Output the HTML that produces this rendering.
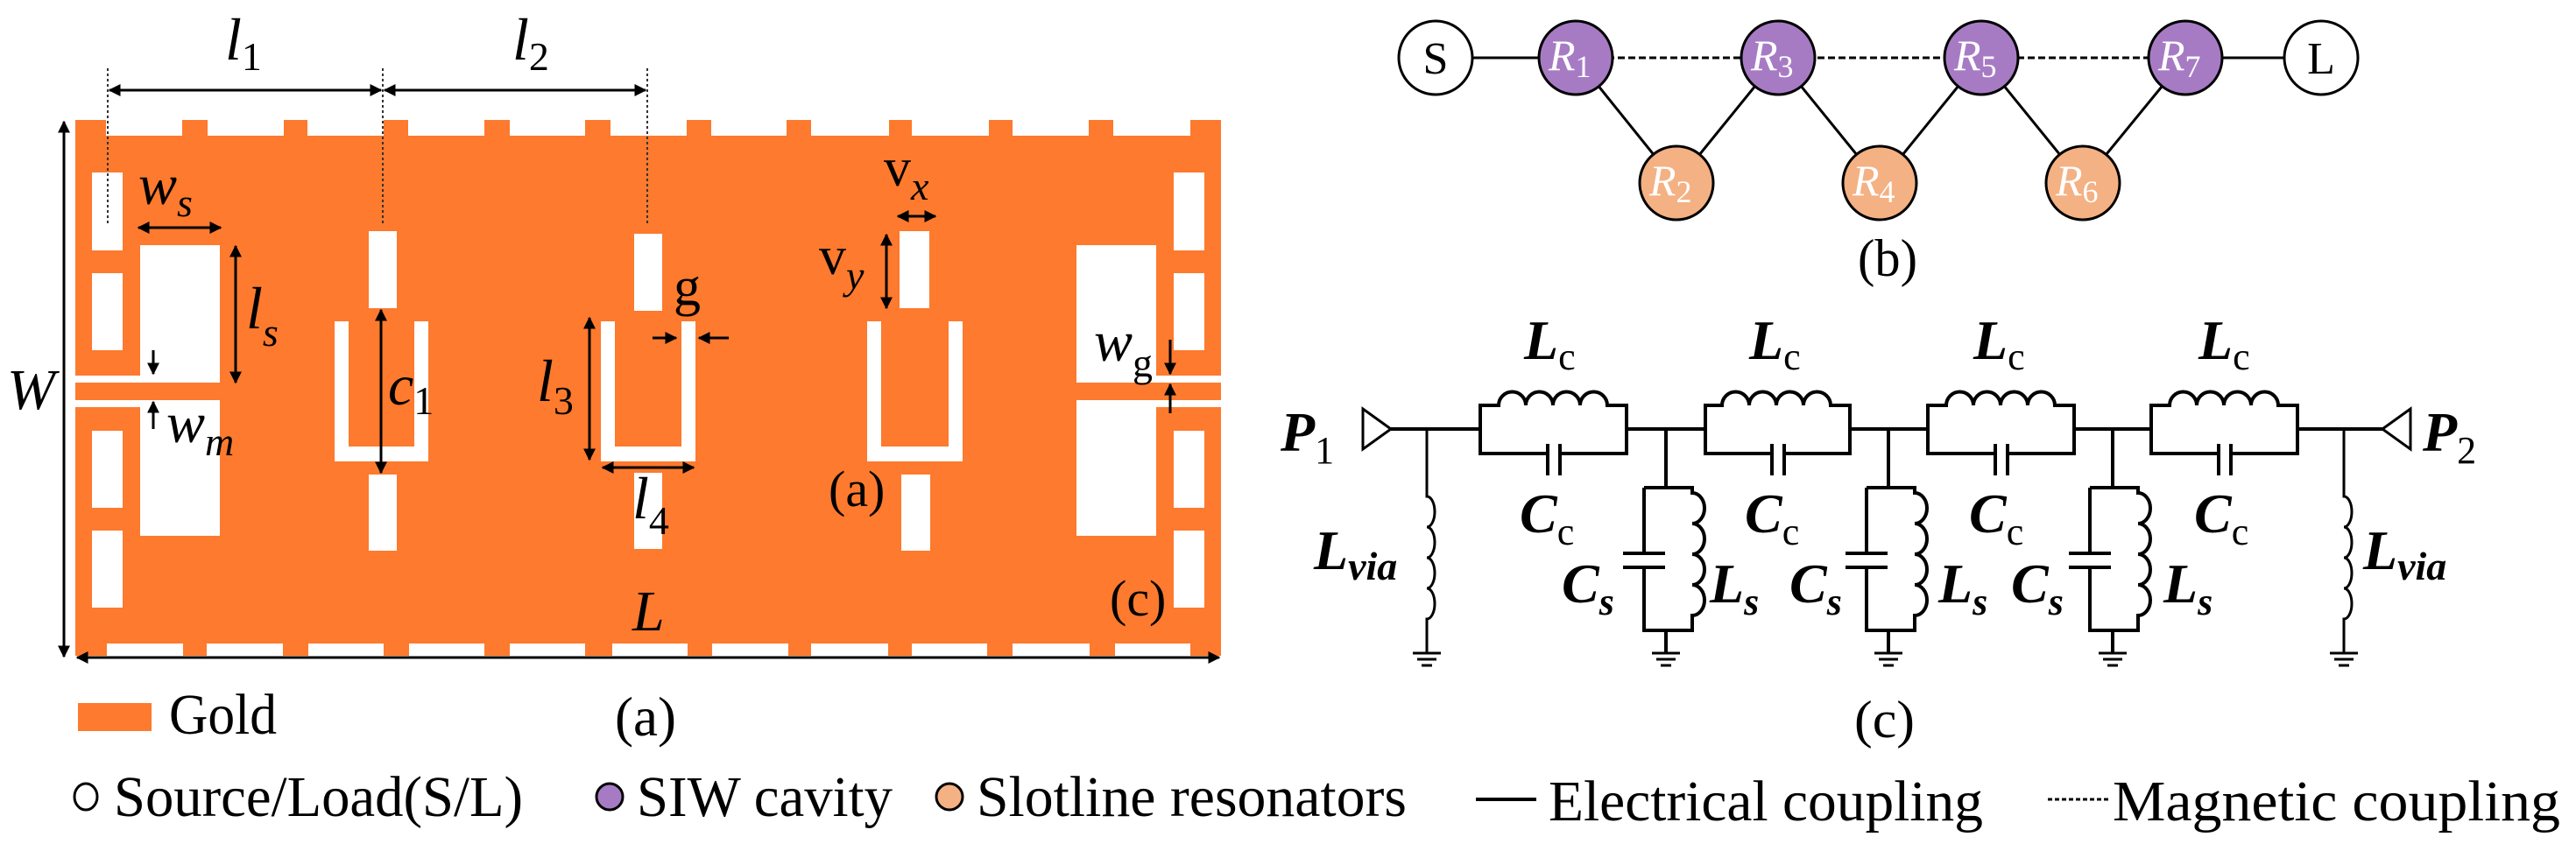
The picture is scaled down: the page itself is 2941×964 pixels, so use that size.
<!DOCTYPE html>
<html><head><meta charset="utf-8"><style>
html,body{margin:0;padding:0;background:#fff;}
svg{display:block;font-family:"Liberation Serif","Times New Roman",serif;}
svg text{font-family:"Liberation Serif","Times New Roman",serif;}
.it{font-style:italic;}
.bi{font-style:italic;font-weight:bold;}
</style></head><body>
<svg width="2941" height="964" viewBox="0 0 2941 964" xmlns="http://www.w3.org/2000/svg" font-family="Liberation Serif, Times New Roman, serif">
<defs>
<marker id="a2" viewBox="0 0 10 10" refX="9" refY="5" markerWidth="14" markerHeight="14" orient="auto-start-reverse" markerUnits="userSpaceOnUse"><path d="M0,0 L10,5 L0,10 z" fill="#000"/></marker>
</defs>

<g>
<rect x="86" y="137" width="1308" height="612" fill="#FD7A2E"/>
<g fill="#fff">
<rect x="121" y="134" width="87" height="21"/><rect x="237" y="134" width="87" height="21"/><rect x="351" y="134" width="87" height="21"/><rect x="466" y="134" width="87" height="21"/><rect x="582" y="134" width="86" height="21"/><rect x="697" y="134" width="87" height="21"/><rect x="812" y="134" width="86" height="21"/><rect x="926" y="134" width="89" height="21"/><rect x="1041" y="134" width="88" height="21"/><rect x="1156" y="134" width="87" height="21"/><rect x="1271" y="134" width="88" height="21"/>
<rect x="122" y="735" width="87" height="16"/><rect x="236" y="735" width="87" height="16"/><rect x="352" y="735" width="86" height="16"/><rect x="467" y="735" width="86" height="16"/><rect x="582" y="735" width="86" height="16"/><rect x="699" y="735" width="86" height="16"/><rect x="813" y="735" width="87" height="16"/><rect x="926" y="735" width="88" height="16"/><rect x="1041" y="735" width="86" height="16"/><rect x="1156" y="735" width="88" height="16"/><rect x="1273" y="735" width="86" height="16"/>
<rect x="105" y="197" width="35" height="89"/><rect x="105" y="312" width="35" height="88"/><rect x="105" y="492" width="35" height="88"/><rect x="105" y="606" width="35" height="88"/>
<rect x="160" y="280" width="91" height="157"/><rect x="160" y="457" width="91" height="155"/>
<rect x="86" y="429" width="165" height="8"/><rect x="86" y="457" width="165" height="8"/>
<rect x="1340" y="197" width="35" height="89"/><rect x="1340" y="312" width="35" height="88"/><rect x="1340" y="492" width="35" height="88"/><rect x="1340" y="606" width="35" height="88"/>
<rect x="1229" y="280" width="91" height="157"/><rect x="1229" y="457" width="91" height="155"/>
<rect x="1229" y="429" width="165" height="8"/><rect x="1229" y="457" width="165" height="8"/>
<rect x="421" y="264" width="32" height="88"/><rect x="724" y="267" width="32" height="88"/><rect x="1027" y="264" width="34" height="88"/>
<rect x="421" y="542" width="32" height="87"/><rect x="724" y="540" width="32" height="87"/><rect x="1029" y="542" width="33" height="87"/>
<rect x="382" y="367" width="107" height="160"/><rect x="686" y="367" width="108" height="160"/><rect x="990" y="367" width="109" height="160"/>
</g>
<g fill="#FD7A2E">
<rect x="398" y="360" width="75" height="150"/><rect x="702" y="360" width="76" height="150"/><rect x="1006" y="360" width="77" height="150"/>
</g>
</g>

<g stroke="#333" stroke-width="2" stroke-dasharray="3,3">
<line x1="123" y1="78" x2="123" y2="258"/><line x1="437" y1="78" x2="437" y2="258"/><line x1="739" y1="78" x2="739" y2="258"/>
</g>
<g stroke="#000" stroke-width="3" fill="none">
<line x1="125" y1="103" x2="435" y2="103" marker-start="url(#a2)" marker-end="url(#a2)"/>
<line x1="439" y1="103" x2="737" y2="103" marker-start="url(#a2)" marker-end="url(#a2)"/>
<line x1="73" y1="139" x2="73" y2="750" marker-start="url(#a2)" marker-end="url(#a2)"/>
<line x1="88" y1="751" x2="1392" y2="751" marker-start="url(#a2)" marker-end="url(#a2)"/>
<line x1="158" y1="260" x2="252" y2="260" marker-start="url(#a2)" marker-end="url(#a2)"/>
<line x1="269" y1="281" x2="269" y2="437" marker-start="url(#a2)" marker-end="url(#a2)"/>
<line x1="175" y1="400" x2="175" y2="427" marker-end="url(#a2)"/>
<line x1="175" y1="490" x2="175" y2="459" marker-end="url(#a2)"/>
<line x1="435" y1="354" x2="435" y2="540" marker-start="url(#a2)" marker-end="url(#a2)"/>
<line x1="673" y1="363" x2="673" y2="525" marker-start="url(#a2)" marker-end="url(#a2)"/>
<line x1="688" y1="534" x2="792" y2="534" marker-start="url(#a2)" marker-end="url(#a2)"/>
<line x1="745" y1="386" x2="772" y2="386" marker-end="url(#a2)"/>
<line x1="832" y1="386" x2="798" y2="386" marker-end="url(#a2)"/>
<line x1="1025" y1="247" x2="1068" y2="247" marker-start="url(#a2)" marker-end="url(#a2)"/>
<line x1="1012" y1="268" x2="1012" y2="352" marker-start="url(#a2)" marker-end="url(#a2)"/>
<line x1="1336" y1="388" x2="1336" y2="427" marker-end="url(#a2)"/>
<line x1="1336" y1="472" x2="1336" y2="439" marker-end="url(#a2)"/>
</g>

<g fill="#000">
<text x="257" y="68" font-size="68" class="it">l<tspan font-size="46" font-style="normal" dy="12">1</tspan></text>
<text x="585" y="68" font-size="68" class="it">l<tspan font-size="46" font-style="normal" dy="12">2</tspan></text>
<text x="158" y="233" font-size="66" class="it">w<tspan font-size="46" dy="14">s</tspan></text>
<text x="281" y="375" font-size="68" class="it">l<tspan font-size="46" dy="20">s</tspan></text>
<text x="8" y="467" font-size="66" class="it">W</text>
<text x="190" y="505" font-size="66" class="it">w<tspan font-size="46" dy="15">m</tspan></text>
<text x="443" y="462" font-size="66" class="it">c<tspan font-size="46" font-style="normal" dy="11">1</tspan></text>
<text x="613" y="458" font-size="68" class="it">l<tspan font-size="46" font-style="normal" dy="15">3</tspan></text>
<text x="722" y="592" font-size="68" class="it">l<tspan font-size="46" font-style="normal" dy="18">4</tspan></text>
<text x="769" y="348" font-size="62">g</text>
<text x="1009" y="212" font-size="62">v<tspan font-size="46" class="it" dy="16">x</tspan></text>
<text x="935" y="313" font-size="62">v<tspan font-size="46" class="it" dy="17">y</tspan></text>
<text x="1249" y="412" font-size="66" class="it">w<tspan font-size="46" font-style="normal" dy="18">g</tspan></text>
<text x="946" y="578" font-size="58">(a)</text>
<text x="1267" y="703" font-size="58">(c)</text>
<text x="722" y="720" font-size="66" class="it">L</text>
</g>

<rect x="89" y="803" width="84" height="32" fill="#FD7A2E"/>
<text x="193" y="838" font-size="66" textLength="123" lengthAdjust="spacingAndGlyphs">Gold</text>
<text x="702" y="840" font-size="64" textLength="70" lengthAdjust="spacingAndGlyphs">(a)</text>
<ellipse cx="98" cy="910" rx="13" ry="15" fill="#fff" stroke="#000" stroke-width="3"/>
<text x="130" y="932" font-size="66" textLength="467" lengthAdjust="spacingAndGlyphs">Source/Load(S/L)</text>
<ellipse cx="696" cy="910" rx="15" ry="15" fill="#A77BC4" stroke="#000" stroke-width="3"/>
<text x="727" y="932" font-size="66" textLength="292" lengthAdjust="spacingAndGlyphs">SIW cavity</text>
<ellipse cx="1084" cy="910" rx="15" ry="15" fill="#F4B183" stroke="#000" stroke-width="3"/>
<text x="1115" y="932" font-size="66" textLength="491" lengthAdjust="spacingAndGlyphs">Slotline resonators</text>
<line x1="1685" y1="913" x2="1754" y2="913" stroke="#000" stroke-width="4"/>
<text x="1768" y="937" font-size="66" textLength="496" lengthAdjust="spacingAndGlyphs">Electrical coupling</text>
<line x1="2338" y1="913" x2="2407" y2="913" stroke="#000" stroke-width="3" stroke-dasharray="5,3"/>
<text x="2412" y="937" font-size="66" textLength="511" lengthAdjust="spacingAndGlyphs">Magnetic coupling</text>
<text x="2117" y="842" font-size="60" textLength="69" lengthAdjust="spacingAndGlyphs">(c)</text>

<g stroke="#000" stroke-width="3" fill="none">
<line x1="1639" y1="66" x2="1799" y2="66"/>
<line x1="2495" y1="66" x2="2650" y2="66"/>
<line x1="1799" y1="66" x2="2495" y2="66" stroke-dasharray="8,4"/>
<line x1="1799" y1="66" x2="1914" y2="209"/><line x1="2030" y1="66" x2="1914" y2="209"/>
<line x1="2030" y1="66" x2="2146" y2="209"/><line x1="2262" y1="66" x2="2146" y2="209"/>
<line x1="2262" y1="66" x2="2378" y2="209"/><line x1="2495" y1="66" x2="2378" y2="209"/>
</g>
<g stroke="#000" stroke-width="3">
<circle cx="1639" cy="66" r="42" fill="#fff"/>
<circle cx="2650" cy="66" r="42" fill="#fff"/>
<circle cx="1799" cy="66" r="42" fill="#A77BC4"/>
<circle cx="2030" cy="66" r="42" fill="#A77BC4"/>
<circle cx="2262" cy="66" r="42" fill="#A77BC4"/>
<circle cx="2495" cy="66" r="42" fill="#A77BC4"/>
<circle cx="1914" cy="209" r="42" fill="#F4B183"/>
<circle cx="2146" cy="209" r="42" fill="#F4B183"/>
<circle cx="2378" cy="209" r="42" fill="#F4B183"/>
</g>
<g font-size="52" text-anchor="middle">
<text x="1639" y="84">S</text><text x="2650" y="84">L</text>
</g>
<g fill="#fff" font-size="50">
<text x="1768" y="80" class="it">R<tspan font-size="36" font-style="normal" dy="8">1</tspan></text>
<text x="1999" y="80" class="it">R<tspan font-size="36" font-style="normal" dy="8">3</tspan></text>
<text x="2231" y="80" class="it">R<tspan font-size="36" font-style="normal" dy="8">5</tspan></text>
<text x="2464" y="80" class="it">R<tspan font-size="36" font-style="normal" dy="8">7</tspan></text>
<text x="1883" y="223" class="it">R<tspan font-size="36" font-style="normal" dy="8">2</tspan></text>
<text x="2115" y="223" class="it">R<tspan font-size="36" font-style="normal" dy="8">4</tspan></text>
<text x="2347" y="223" class="it">R<tspan font-size="36" font-style="normal" dy="8">6</tspan></text>
</g>
<text x="2121" y="315" font-size="60" textLength="68" lengthAdjust="spacingAndGlyphs">(b)</text>

<g stroke="#000" stroke-width="4" fill="none" stroke-linejoin="miter">
<path d="M1556,467 L1588,490 L1556,513 Z" stroke-width="3"/>
<path d="M2752,467 L2720,490 L2752,513 Z" stroke-width="3"/>
<line x1="1588" y1="490" x2="1690" y2="490"/>
<line x1="1857" y1="490" x2="1947" y2="490"/>
<line x1="2112" y1="490" x2="2201" y2="490"/>
<line x1="2368" y1="490" x2="2456" y2="490"/>
<line x1="2623" y1="490" x2="2720" y2="490"/>
<path d="M1690,490 V463 H1711 a15.5,15.5 0 0 1 31,0 a15.5,15.5 0 0 1 31,0 a15.5,15.5 0 0 1 31,0 a15.5,15.5 0 0 1 31,0 H1857 V518 H1781 M1767,518 H1690 V490 M1767,507 V543 M1781,507 V543 M1857,490 V518"/>
<path d="M1947,490 V463 H1966 a15.5,15.5 0 0 1 31,0 a15.5,15.5 0 0 1 31,0 a15.5,15.5 0 0 1 31,0 a15.5,15.5 0 0 1 31,0 H2112 V518 H2037 M2023,518 H1947 V490 M2023,507 V543 M2037,507 V543"/>
<path d="M2201,490 V463 H2222 a15.5,15.5 0 0 1 31,0 a15.5,15.5 0 0 1 31,0 a15.5,15.5 0 0 1 31,0 a15.5,15.5 0 0 1 31,0 H2368 V518 H2292 M2278,518 H2201 V490 M2278,507 V543 M2292,507 V543"/>
<path d="M2456,490 V463 H2477 a15.5,15.5 0 0 1 31,0 a15.5,15.5 0 0 1 31,0 a15.5,15.5 0 0 1 31,0 a15.5,15.5 0 0 1 31,0 H2623 V518 H2547 M2533,518 H2456 V490 M2533,507 V543 M2547,507 V543"/>
<path d="M1902,490 V557 M1877,557 H1932 V563 a14,17.5 0 0 1 0,35 a14,17.5 0 0 1 0,35 a14,17.5 0 0 1 0,35 a14,17.5 0 0 1 0,35 V720 H1877 V648 M1877,632 V557 M1853,632 H1901 M1853,648 H1901 M1902,720 V745"/>
<path d="M2156,490 V557 M2131,557 H2186 V563 a14,17.5 0 0 1 0,35 a14,17.5 0 0 1 0,35 a14,17.5 0 0 1 0,35 a14,17.5 0 0 1 0,35 V720 H2131 V648 M2131,632 V557 M2107,632 H2155 M2107,648 H2155 M2156,720 V745"/>
<path d="M2412,490 V557 M2386,557 H2441 V563 a14,17.5 0 0 1 0,35 a14,17.5 0 0 1 0,35 a14,17.5 0 0 1 0,35 a14,17.5 0 0 1 0,35 V720 H2386 V648 M2386,632 V557 M2362,632 H2410 M2362,648 H2410 M2412,720 V745"/>
<path stroke-width="3" d="M1629,490 V567 a9,17.5 0 0 1 0,35 a9,17.5 0 0 1 0,35 a9,17.5 0 0 1 0,35 a9,17.5 0 0 1 0,35 V745"/>
<path stroke-width="3" d="M2676,490 V567 a9,17.5 0 0 1 0,35 a9,17.5 0 0 1 0,35 a9,17.5 0 0 1 0,35 a9,17.5 0 0 1 0,35 V745"/>
<g stroke-width="3">
<path d="M1613,746 H1645 M1618,753 H1640 M1623,760 H1635"/>
<path d="M1886,746 H1918 M1891,753 H1913 M1896,760 H1908"/>
<path d="M2140,746 H2172 M2145,753 H2167 M2150,760 H2162"/>
<path d="M2396,746 H2428 M2401,753 H2423 M2406,760 H2418"/>
<path d="M2660,746 H2692 M2665,753 H2687 M2670,760 H2682"/>
</g>
</g>
<g fill="#000">
<text x="1740" y="410" font-size="64" class="bi">L<tspan font-size="44" font-weight="normal" font-style="normal" dy="12">c</tspan></text>
<text x="1997" y="410" font-size="64" class="bi">L<tspan font-size="44" font-weight="normal" font-style="normal" dy="12">c</tspan></text>
<text x="2253" y="410" font-size="64" class="bi">L<tspan font-size="44" font-weight="normal" font-style="normal" dy="12">c</tspan></text>
<text x="2510" y="410" font-size="64" class="bi">L<tspan font-size="44" font-weight="normal" font-style="normal" dy="12">c</tspan></text>
<text x="1735" y="608" font-size="64" class="bi">C<tspan font-size="44" font-weight="normal" font-style="normal" dy="14">c</tspan></text>
<text x="1992" y="608" font-size="64" class="bi">C<tspan font-size="44" font-weight="normal" font-style="normal" dy="14">c</tspan></text>
<text x="2248" y="608" font-size="64" class="bi">C<tspan font-size="44" font-weight="normal" font-style="normal" dy="14">c</tspan></text>
<text x="2505" y="608" font-size="64" class="bi">C<tspan font-size="44" font-weight="normal" font-style="normal" dy="14">c</tspan></text>
<text x="1783" y="688" font-size="64" class="bi">C<tspan font-size="44" dy="14">s</tspan></text>
<text x="2043" y="688" font-size="64" class="bi">C<tspan font-size="44" dy="14">s</tspan></text>
<text x="2296" y="688" font-size="64" class="bi">C<tspan font-size="44" dy="14">s</tspan></text>
<text x="1952" y="688" font-size="64" class="bi">L<tspan font-size="44" dy="14">s</tspan></text>
<text x="2213" y="688" font-size="64" class="bi">L<tspan font-size="44" dy="14">s</tspan></text>
<text x="2470" y="688" font-size="64" class="bi">L<tspan font-size="44" dy="14">s</tspan></text>
<text x="1500" y="650" font-size="64" class="bi">L<tspan font-size="46" dy="12">via</tspan></text>
<text x="2698" y="650" font-size="64" class="bi">L<tspan font-size="46" dy="12">via</tspan></text>
<text x="1462" y="515" font-size="64" class="bi">P<tspan font-size="44" font-weight="normal" font-style="normal" dy="14">1</tspan></text>
<text x="2766" y="515" font-size="64" class="bi">P<tspan font-size="44" font-weight="normal" font-style="normal" dy="14">2</tspan></text>
</g>
</svg>
</body></html>
